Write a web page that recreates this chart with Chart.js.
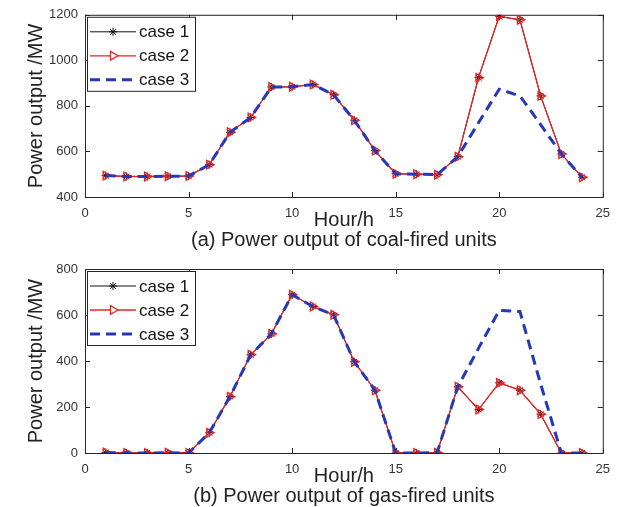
<!DOCTYPE html>
<html>
<head>
<meta charset="utf-8">
<script src="https://cdn.jsdelivr.net/npm/chart.js@4.4.1/dist/chart.umd.min.js"></script>
<style>
  body { margin: 0; background: #fff; }
  #wrap { position: relative; width: 619px; height: 507px; }
  canvas { position: absolute; left: 0; }
</style>
</head>
<body>
<div id="wrap">
  <canvas id="coalChart" width="619" height="253" style="top:0"></canvas>
  <canvas id="gasChart" width="619" height="254" style="top:253px"></canvas>
</div>
<script>
// datos
const hours = [1, 2, 3, 4, 5, 6, 7, 8, 9, 10, 11, 12, 13, 14, 15, 16, 17, 18, 19, 20, 21, 22, 23, 24];
const caseNames = ['case 1', 'case 2', 'case 3'];

// carbon (coal-fired)
const coalCase1 = [494, 490, 490, 491, 492, 542, 684, 749, 883, 884, 894, 849, 737, 604, 502, 500, 498, 577, 924, 1193, 1178, 844, 589, 487];
const coalCase2 = [494, 490, 490, 491, 492, 542, 684, 749, 883, 884, 894, 849, 737, 604, 502, 500, 498, 577, 924, 1193, 1178, 844, 589, 487];
const coalCase3 = [494, 490, 490, 491, 492, 542, 684, 749, 883, 884, 894, 849, 737, 604, 502, 500, 498, 577, 726, 873, 844, 718, 589, 487];
const coalTicks = [400, 600, 800, 1000, 1200];

// gas-fired
const gasCase1 = [2, 0, 0, 1, 0, 88, 245, 427, 518, 688, 637, 601, 397, 273, 0, 0, 1, 288, 189, 305, 273, 169, 0, 0];
const gasCase2 = [2, 0, 0, 1, 0, 88, 245, 427, 518, 688, 637, 601, 397, 273, 0, 0, 1, 288, 189, 305, 273, 169, 0, 0];
const gasCase3 = [2, 0, 0, 1, 0, 88, 245, 427, 518, 688, 637, 601, 397, 273, 0, 0, 1, 288, 455, 620, 615, 300, 0, 0];
const gasTicks = [0, 200, 400, 600, 800];

const hourTicks = [0, 5, 10, 15, 20, 25];

const FONT = '"Liberation Sans", Arial, Helvetica, sans-serif';
const BLUE = '#2638b8';
const RED = '#f02020';

// Marco, ticks internos, etiquetas y leyenda
const framePlugin = {
    id: 'frame',
    beforeDatasetsDraw(chart) {
        const ctx = chart.ctx;
        const a = chart.chartArea;
        const xs = chart.scales.x;
        const ys = chart.scales.y;
        ctx.save();
        ctx.strokeStyle = '#262626';
        ctx.lineWidth = 1;
        ctx.strokeRect(a.left + 0.5, a.top + 0.5, a.right - a.left, a.bottom - a.top);
        ctx.beginPath();
        xs.ticks.forEach(t => {
            const x = Math.round(xs.getPixelForValue(t.value)) + 0.5;
            ctx.moveTo(x, a.bottom);
            ctx.lineTo(x, a.bottom - 5);
            ctx.moveTo(x, a.top);
            ctx.lineTo(x, a.top + 5);
        });
        ys.ticks.forEach(t => {
            const y = Math.round(ys.getPixelForValue(t.value)) + 0.5;
            ctx.moveTo(a.left, y);
            ctx.lineTo(a.left + 5, y);
            ctx.moveTo(a.right, y);
            ctx.lineTo(a.right - 5, y);
        });
        ctx.stroke();
        ctx.restore();
    },
    afterDraw(chart, args, opts) {
        const ctx = chart.ctx;
        const a = chart.chartArea;
        const midX = (a.left + a.right) / 2;
        ctx.save();
        ctx.fillStyle = '#222';
        ctx.textAlign = 'center';
        ctx.textBaseline = 'middle';
        ctx.font = '20px ' + FONT;
        ctx.fillText('Hour/h', midX, a.bottom + 23);
        ctx.fillText(opts.caption, midX, a.bottom + 43);

        // leyenda
        ctx.font = '17px ' + FONT;
        const lx = a.left + 2;
        const ly = a.top + 2;
        ctx.fillStyle = '#fff';
        ctx.fillRect(lx, ly, 108, 74);
        ctx.strokeStyle = '#262626';
        ctx.lineWidth = 1;
        ctx.strokeRect(lx + 0.5, ly + 0.5, 108, 74);
        chart.data.datasets.forEach((ds, i) => {
            const y = ly + 15 + i * 24;
            ctx.save();
            ctx.strokeStyle = ds.borderColor;
            ctx.lineWidth = ds.borderWidth;
            ctx.setLineDash(ds.borderDash || []);
            ctx.beginPath();
            ctx.moveTo(lx + 3, y);
            ctx.lineTo(lx + 49, y);
            ctx.stroke();
            ctx.setLineDash([]);
            if (ds.pointRadius > 0) {
                ctx.strokeStyle = ds.pointBorderColor;
                ctx.fillStyle = '#fff';
                Chart.helpers.drawPoint(ctx, {
                    pointStyle: ds.pointStyle,
                    rotation: ds.pointRotation || 0,
                    radius: ds.pointRadius,
                    borderWidth: ds.pointBorderWidth
                }, lx + 26, y);
            }
            ctx.restore();
            ctx.fillStyle = '#111';
            ctx.textAlign = 'left';
            ctx.fillText(ds.label, lx + 52, y + 1);
        });
        ctx.restore();
    }
};

function makeDatasets(c1, c2, c3) {
    return [
        {
            label: caseNames[0],
            data: c1,
            borderColor: '#111',
            borderWidth: 1,
            pointStyle: 'star',
            pointRadius: 4,
            pointBorderColor: '#111',
            pointBorderWidth: 1,
            pointBackgroundColor: 'rgba(0,0,0,0)',
            order: 2
        },
        {
            label: caseNames[1],
            data: c2,
            borderColor: RED,
            borderWidth: 1.3,
            pointStyle: 'triangle',
            pointRotation: 90,
            pointRadius: 5,
            pointBorderColor: RED,
            pointBorderWidth: 1.3,
            pointBackgroundColor: 'rgba(0,0,0,0)',
            order: 1
        },
        {
            label: caseNames[2],
            data: c3,
            borderColor: BLUE,
            borderWidth: 3,
            borderDash: [10, 6],
            pointRadius: 0,
            order: 0
        }
    ];
}

function makeChart(id, c1, c2, c3, yTicks, caption, topPad, xHeight) {
    const ctx = document.getElementById(id).getContext('2d');
    return new Chart(ctx, {
        type: 'line',
        data: {
            datasets: makeDatasets(
                c1.map((v, i) => ({ x: hours[i], y: v })),
                c2.map((v, i) => ({ x: hours[i], y: v })),
                c3.map((v, i) => ({ x: hours[i], y: v }))
            )
        },
        options: {
            responsive: false,
            animation: false,
            devicePixelRatio: 1,
            layout: { padding: { top: topPad, right: 14, left: 0, bottom: 0 } },
            plugins: {
                legend: { display: false },
                tooltip: { enabled: false },
                frame: { caption: caption }
            },
            scales: {
                x: {
                    type: 'linear',
                    min: hourTicks[0],
                    max: hourTicks[hourTicks.length - 1],
                    afterBuildTicks: (s) => { s.ticks = hourTicks.map(v => ({ value: v })); },
                    grid: { display: false, drawTicks: false },
                    border: { display: false },
                    ticks: { color: '#333', font: { family: FONT, size: 13 }, padding: 9, maxRotation: 0,
                        callback: (v) => String(v) },
                    afterFit: (s) => { s.height = xHeight; }
                },
                y: {
                    min: yTicks[0],
                    max: yTicks[yTicks.length - 1],
                    afterBuildTicks: (s) => { s.ticks = yTicks.map(v => ({ value: v })); },
                    grid: { display: false, drawTicks: false },
                    border: { display: false },
                    ticks: { color: '#333', font: { family: FONT, size: 13 }, padding: 7,
                        callback: (v) => String(v) },
                    title: {
                        display: true,
                        text: 'Power output /MW',
                        color: '#222',
                        font: { family: FONT, size: 20 },
                        padding: { top: 24, bottom: 0 }
                    },
                    afterFit: (s) => { s.width = 85; }
                }
            }
        },
        plugins: [framePlugin]
    });
}

makeChart('coalChart', coalCase1, coalCase2, coalCase3, coalTicks,
    '(a) Power output of coal-fired units', 13, 56);
makeChart('gasChart', gasCase1, gasCase2, gasCase3, gasTicks,
    '(b) Power output of gas-fired units', 16, 54);
</script>
</body>
</html>
